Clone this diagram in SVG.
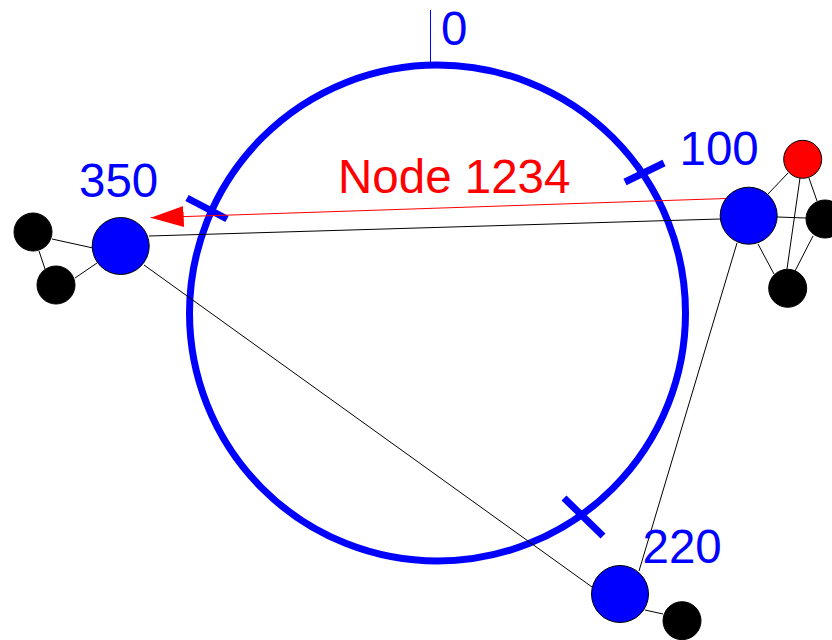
<svg xmlns="http://www.w3.org/2000/svg" width="832" height="640" viewBox="0 0 832 640">
<defs>
<style>
.ring{fill:none;stroke:#0000ff;stroke-width:7}
.tick{stroke:#0000ff;stroke-width:7;fill:none}
.edge{stroke:#000;stroke-width:1;fill:none}
.big{fill:#0000ff;stroke:#000;stroke-width:1}
.small{fill:#000;stroke:#000;stroke-width:1}
.red{fill:#ff0000;stroke:#000;stroke-width:1}
.lbl{font-family:"Liberation Sans",Arial,sans-serif;font-size:47.5px;fill:#0000ff}
.rlbl{font-family:"Liberation Sans",Arial,sans-serif;font-size:47.5px;fill:#ff0000}
</style>
<marker id="arr" viewBox="0 0 33 21" refX="33" refY="10.5" markerWidth="33" markerHeight="21" markerUnits="userSpaceOnUse" orient="auto">
<path d="M0,0 L33,10.5 L0,21 Z" fill="#ff0000"/>
</marker>
</defs>
<g id="ring">
<circle class="ring" cx="437.5" cy="313" r="248"/>
<line x1="430.5" y1="10" x2="430.5" y2="64" stroke="#0000ff" stroke-width="1"/>
<line class="tick" x1="625" y1="182" x2="664" y2="163"/>
<line class="tick" x1="187" y1="198" x2="227" y2="219"/>
<line class="tick" x1="564" y1="498" x2="603" y2="536"/>
</g>
<g id="connectors">
<line class="edge" x1="149" y1="236" x2="720" y2="219"/>
<line class="edge" x1="777" y1="217" x2="806" y2="218"/>
<line class="edge" x1="768" y1="194" x2="788" y2="173"/>
<line class="edge" x1="809" y1="178" x2="817" y2="201"/>
<line class="edge" x1="800" y1="178" x2="787" y2="269"/>
<line class="edge" x1="813" y1="236" x2="795" y2="271"/>
<line class="edge" x1="758" y1="244" x2="774" y2="274"/>
<line class="edge" x1="737" y1="243" x2="639" y2="571"/>
<line class="edge" x1="144" y1="265" x2="592" y2="587"/>
<line class="edge" x1="645" y1="610" x2="663" y2="614"/>
<line class="edge" x1="52" y1="239" x2="93" y2="248"/>
<line class="edge" x1="39" y1="251" x2="45" y2="269"/>
<line class="edge" x1="75" y1="278" x2="97" y2="263"/>
<line x1="726" y1="198.5" x2="150.7" y2="217.7" stroke="#ff0000" stroke-width="1" marker-end="url(#arr)"/>
</g>
<g id="n350">
<circle class="big" cx="120.7" cy="246" r="28.5"/>
<text class="lbl" x="79" y="197">350</text>
</g>
<g id="n350a"><circle class="small" cx="33" cy="232" r="19"/></g>
<g id="n350b"><circle class="small" cx="56" cy="285" r="19"/></g>
<g id="n100">
<circle class="big" cx="748.7" cy="215.7" r="28.5"/>
<text class="lbl" x="679.5" y="165">100</text>
</g>
<g id="n1234">
<circle class="red" cx="802.7" cy="159.3" r="19"/>
<text class="rlbl" x="338" y="193">Node 1234</text>
</g>
<g id="n100a"><circle class="small" cx="825" cy="219" r="19"/></g>
<g id="n100b"><circle class="small" cx="787.7" cy="288.3" r="19"/></g>
<g id="n220">
<circle class="big" cx="620" cy="594" r="28.5"/>
<text class="lbl" x="642.5" y="563">220</text>
</g>
<g id="n220a"><circle class="small" cx="682" cy="620.7" r="19"/></g>
<g id="n0">
<text class="lbl" x="441" y="45">0</text>
</g>
</svg>
